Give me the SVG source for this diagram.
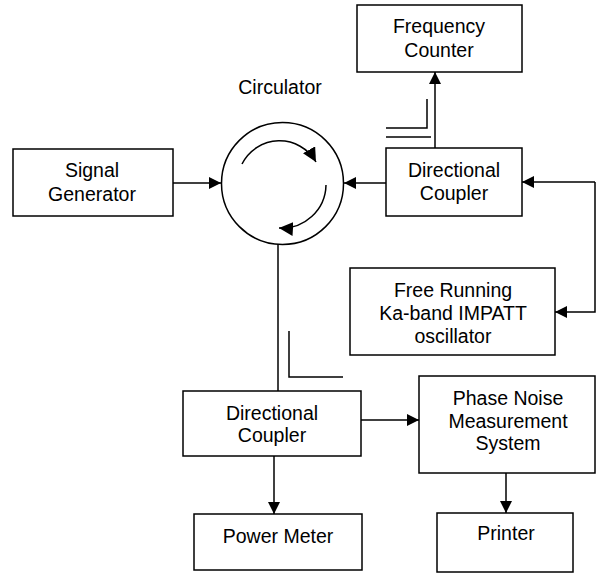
<svg xmlns="http://www.w3.org/2000/svg" width="596" height="574" viewBox="0 0 596 574">
<style>
.box{fill:#fff;stroke:#000;stroke-width:1.5}
.ln{fill:none;stroke:#000;stroke-width:1.5}
.t{font-family:"Liberation Sans",Arial,sans-serif;font-size:19.5px;fill:#000;text-anchor:middle}
</style>
<defs>
<marker id="ah" viewBox="0 0 12 12" refX="12" refY="6" markerWidth="12" markerHeight="12" markerUnits="userSpaceOnUse" orient="auto">
<path d="M0,0 L12,6 L0,12 z" fill="#000"/>
</marker>
<marker id="ah2" viewBox="0 0 14 14" refX="14" refY="7" markerWidth="14" markerHeight="14" markerUnits="userSpaceOnUse" orient="auto">
<path d="M0,0 L14,7 L0,14 z" fill="#000"/>
</marker>
</defs>
<rect width="596" height="574" fill="#fff"/>
<g id="frequency-counter">
<rect class="box" x="357" y="5" width="165" height="67"/>
<text class="t" x="439" y="33">Frequency</text>
<text class="t" x="439" y="57">Counter</text>
</g>
<g id="circulator">
<text class="t" x="280" y="94">Circulator</text>
<circle class="ln" cx="282.5" cy="183.5" r="61"/>
<path class="ln" d="M242,164 A42,42 0 0 1 316,162" marker-end="url(#ah2)"/>
<path class="ln" d="M326,185 A44,44 0 0 1 279,228" marker-end="url(#ah2)"/>
</g>
<g id="signal-generator">
<rect class="box" x="13" y="149" width="160" height="67"/>
<text class="t" x="92" y="177">Signal</text>
<text class="t" x="92" y="201">Generator</text>
</g>
<g id="directional-coupler-top">
<rect class="box" x="386" y="148" width="136" height="68"/>
<text class="t" x="454" y="177">Directional</text>
<text class="t" x="454" y="200">Coupler</text>
</g>
<g id="impatt-oscillator">
<rect class="box" x="350" y="268" width="205" height="87"/>
<text class="t" x="453" y="297">Free Running</text>
<text class="t" x="453" y="320">Ka-band IMPATT</text>
<text class="t" x="453" y="343">oscillator</text>
</g>
<g id="directional-coupler-bottom">
<rect class="box" x="183" y="391" width="178" height="65"/>
<text class="t" x="272" y="420">Directional</text>
<text class="t" x="272" y="442">Coupler</text>
</g>
<g id="phase-noise-system">
<rect class="box" x="419" y="376" width="176" height="97"/>
<text class="t" x="508" y="405">Phase Noise</text>
<text class="t" x="508" y="428">Measurement</text>
<text class="t" x="508" y="450">System</text>
</g>
<g id="power-meter">
<rect class="box" x="194" y="514" width="168" height="56"/>
<text class="t" x="278" y="543">Power Meter</text>
</g>
<g id="printer">
<rect class="box" x="437" y="513" width="136" height="59"/>
<text class="t" x="506" y="540">Printer</text>
</g>
<g id="connectors">
<path class="ln" d="M173,183 L221,183" marker-end="url(#ah)"/>
<path class="ln" d="M386,183 L344,183" marker-end="url(#ah)"/>
<path class="ln" d="M595,182 L522,182" marker-end="url(#ah)"/>
<path class="ln" d="M595,182 L595,312 L555,312" marker-end="url(#ah)"/>
<path class="ln" d="M435,148 L435,72" marker-end="url(#ah)"/>
<path class="ln" d="M427,99 L427,128 L386,128"/>
<path class="ln" d="M386,137 L431,137"/>
<path class="ln" d="M278,244 L278,391"/>
<path class="ln" d="M289,331 L289,377 L343,377"/>
<path class="ln" d="M361,420 L419,420" marker-end="url(#ah)"/>
<path class="ln" d="M274,456 L274,514" marker-end="url(#ah)"/>
<path class="ln" d="M506,473 L506,513" marker-end="url(#ah)"/>
</g>
</svg>
